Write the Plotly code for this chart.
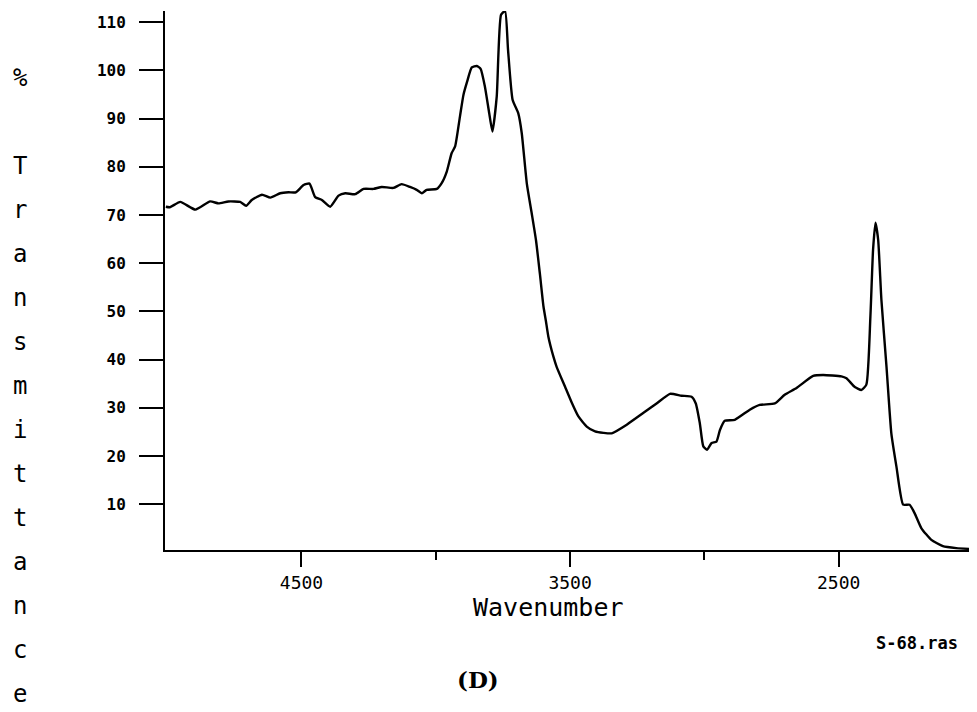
import plotly.graph_objects as go

# ---- data ----
wavenumber = [
    5005, 4990, 4951, 4895, 4840, 4809, 4772, 4728, 4706, 4685, 4647, 4616, 4579,
    4548, 4521, 4492, 4470, 4449, 4424, 4393, 4362, 4337, 4300, 4269, 4232, 4201,
    4158, 4127, 4096, 4071, 4052, 4034, 3996, 3978, 3959, 3941, 3928, 3910, 3897,
    3883, 3866, 3847, 3833, 3817, 3801, 3789, 3773, 3757, 3742, 3731, 3714, 3693,
    3680, 3661, 3643, 3627, 3612, 3599, 3590, 3581, 3562, 3550, 3519, 3494, 3469,
    3438, 3407, 3376, 3345, 3289, 3228, 3178, 3128, 3085, 3048, 3032, 3017, 3004,
    2990, 2973, 2955, 2942, 2924, 2887, 2831, 2794, 2738, 2701, 2657, 2595, 2558,
    2490, 2471, 2440, 2415, 2397, 2382, 2372, 2363, 2353, 2341, 2322, 2304, 2285,
    2260, 2236, 2217, 2192, 2155, 2112, 2062, 2006,
]
transmittance = [
    71.7, 71.6, 72.7, 71.1, 72.8, 72.4, 72.8, 72.7, 71.9, 73.1, 74.2, 73.6, 74.5,
    74.7, 74.7, 76.2, 76.5, 73.7, 73.1, 71.7, 74.0, 74.5, 74.3, 75.4, 75.4, 75.8,
    75.6, 76.4, 75.8, 75.2, 74.5, 75.2, 75.4, 76.6, 79.0, 82.8, 84.2, 90.4, 94.9,
    97.7, 100.6, 100.9, 100.3, 96.6, 91.1, 87.3, 94.6, 111.5, 112.3, 104.3, 93.9, 91.1,
    87.0, 76.5, 70.4, 64.8, 57.6, 51.0, 48.0, 44.8, 40.6, 38.5, 34.4, 31.1, 28.2,
    26.1, 25.1, 24.8, 24.7, 26.5, 28.9, 30.9, 32.9, 32.5, 32.3, 30.9, 26.8, 22.0,
    21.3, 22.7, 23.0, 25.4, 27.3, 27.5, 29.6, 30.6, 30.9, 32.7, 34.1, 36.6, 36.8,
    36.5, 36.1, 34.3, 33.7, 34.8, 48.9, 62.8, 68.4, 64.8, 52.4, 38.5, 24.7, 17.8,
    9.9, 9.9, 8.1, 5.0, 2.6, 1.3, 0.9, 0.7,
]
y_tick_values = [10, 20, 30, 40, 50, 60, 70, 80, 90, 100, 110]
x_major_ticks = [4500, 3500, 2500]
x_major_labels = ["4500", "3500", "2500"]
x_minor_ticks = [4000, 3000, 2000]
y_title_chars = ["%", ""] + list("Transmittance")
x_title = "Wavenumber"
file_label = "S-68.ras"
panel_label = "(D)"

# ---- layout geometry (page pixels; the page body adds an 8px offset) ----
W, H = 977, 712
OFF = 8
PLOT_L, PLOT_R, PLOT_T, PLOT_B = 165, 973, 11, 550
ML, MT = PLOT_L - OFF, PLOT_T - OFF
MR, MB = W - (PLOT_R - OFF), H - (PLOT_B - OFF)
PW = PLOT_R - PLOT_L
PH = PLOT_B - PLOT_T


def paper(px, py):
    return (px - PLOT_L) / PW, (PLOT_B - py) / PH


fig = go.Figure()
fig.add_trace(go.Scatter(
    x=wavenumber, y=transmittance, mode="lines",
    line=dict(color="black", width=2.4, shape="spline", smoothing=0.5),
    showlegend=False, hoverinfo="skip",
))

annotations = []
mono = "DejaVu Sans Mono"
for i, ch in enumerate(y_title_chars):
    if not ch:
        continue
    xp, yp = paper(20, 78 + 44 * i)
    annotations.append(dict(x=xp, y=yp, xref="paper", yref="paper", text=ch,
                            showarrow=False, xanchor="center", yanchor="middle",
                            font=dict(family=mono, size=24, color="black")))
xp, yp = paper(548, 607)
annotations.append(dict(x=xp, y=yp, xref="paper", yref="paper", text=x_title,
                        showarrow=False, xanchor="center", yanchor="middle",
                        font=dict(family=mono, size=25, color="black")))
xp, yp = paper(917, 643)
annotations.append(dict(x=xp, y=yp, xref="paper", yref="paper", text=file_label,
                        showarrow=False, xanchor="center", yanchor="middle",
                        font=dict(family=mono, size=17, color="black", weight="bold")))
xp, yp = paper(478, 679)
annotations.append(dict(x=xp, y=yp, xref="paper", yref="paper", text=panel_label,
                        showarrow=False, xanchor="center", yanchor="middle",
                        font=dict(family="DejaVu Serif", size=23, color="black", weight="bold")))

fig.update_layout(
    width=W, height=H,
    margin=dict(l=ML, r=MR, t=MT, b=MB, pad=0),
    paper_bgcolor="white", plot_bgcolor="white",
    showlegend=False,
    annotations=annotations,
    xaxis=dict(
        range=[5008, 2000], showgrid=False, zeroline=False,
        showline=True, linecolor="black", linewidth=2,
        tickmode="array", tickvals=x_major_ticks, ticktext=x_major_labels,
        ticks="outside", ticklen=15, tickwidth=1.5, tickcolor="black",
        tickfont=dict(family=mono, size=18, color="black"),
        minor=dict(tickmode="array", tickvals=x_minor_ticks, ticks="outside",
                   ticklen=8, tickwidth=1.5, tickcolor="black", showgrid=False),
        automargin=False,
    ),
    yaxis=dict(
        range=[0.5, 112.3], showgrid=False, zeroline=False,
        showline=True, linecolor="black", linewidth=2,
        tickmode="array", tickvals=y_tick_values,
        ticks="outside", ticklen=24, tickwidth=1.5, tickcolor="black",
        ticklabelstandoff=10,
        tickfont=dict(family=mono, size=16, color="black", weight="bold"),
        automargin=False,
    ),
)

fig.write_html("out.html")
